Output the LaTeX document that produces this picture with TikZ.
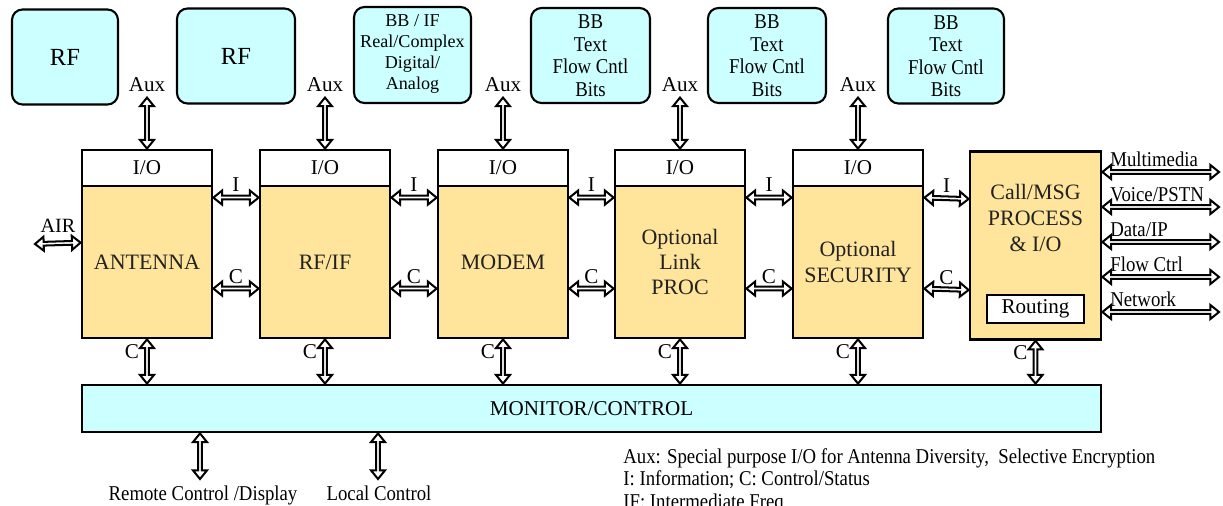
\documentclass[tikz,border=0pt]{standalone}
\usepackage{fontspec}
\setmainfont{Liberation Serif}
\newfontfamily\tnr{Liberation Serif}
\newfontfamily\tnrc[FakeStretch=0.89]{Liberation Serif}
\usetikzlibrary{arrows.meta,calc,shapes.arrows}
\definecolor{cy}{HTML}{CCFFFF}
\definecolor{tanfill}{HTML}{FFE49B}
\definecolor{txt}{HTML}{222222}
\newcommand{\fsz}[2]{\tnr\fontsize{#1}{#2}\selectfont}
\newcommand{\fszc}[2]{\tnrc\fontsize{#1}{#2}\selectfont}
\newcommand{\dbl}[2]{\path let \p1=(#1), \p2=(#2), \n1={veclen(\x2-\x1,\y2-\y1)}, \n2={atan2(\y2-\y1,\x2-\x1)} in node[darr, minimum height=\n1, rotate=\n2] at ($(#1)!0.5!(#2)$) {};}
\begin{document}
\begin{tikzpicture}[x=0.02cm,y=-0.02cm,
  topbox/.style={draw, line width=1.2pt, fill=cy, rounded corners=6pt, align=center, inner sep=0pt, minimum height=95*0.02cm},
  iobox/.style={draw, line width=1.6pt, fill=white, minimum width=130*0.02cm, minimum height=36*0.02cm, inner sep=0pt, font=\fsz{12}{14}},
  blk/.style={draw, line width=1.6pt, fill=tanfill, minimum width=130*0.02cm, minimum height=152*0.02cm, inner sep=0pt, align=center, text=txt, font=\fsz{12.5}{14.5}},
  darr/.style={double arrow, draw, fill=white, line width=1.15pt, minimum width=14*0.02cm, double arrow head extend=2.8*0.02cm, double arrow tip angle=78, inner sep=0pt, outer sep=0pt},
  lbl/.style={inner sep=0pt, font=\fsz{12}{14}},
  clbl/.style={inner sep=0pt, font=\fszc{12}{14}},
  smalllbl/.style={inner sep=0pt, font=\fsz{11.5}{13}}
]
\useasboundingbox (0,0) rectangle (1223,506);

% top boxes
\node[topbox, minimum width=106*0.02cm, font=\fsz{14}{16}] (t1) at (65,57) {RF};
\node[topbox, minimum width=118*0.02cm, font=\fsz{14}{16}] (t2) at (236,56) {RF};
\node[topbox, minimum width=117*0.02cm, minimum height=96*0.02cm, font=\fsz{10.3}{11.9}] (t3) at (412.5,55) {};
\node[inner sep=0pt, align=center, font=\fsz{10.3}{11.9}] (t3txt) at (412.5,54) {BB / IF\\Real/Complex\\Digital/\\Analog};
\node[topbox, minimum width=119*0.02cm, font=\fszc{12}{12.8}] (t4) at (590.5,55.5) {BB\\Text\\Flow Cntl\\Bits};
\node[topbox, minimum width=118*0.02cm, font=\fszc{12}{12.8}] (t5) at (767,55.5) {BB\\Text\\Flow Cntl\\Bits};
\node[topbox, minimum width=116*0.02cm, font=\fszc{12}{12.8}] (t6) at (946,56) {BB\\Text\\Flow Cntl\\Bits};

% blocks
\foreach \i/\x/\t in {1/82/{ANTENNA}, 2/260/{RF/IF}, 3/438/{MODEM}, 4/615/{Optional\\Link\\PROC}, 5/793/{Optional\\SECURITY}} {
  \node[iobox] (io\i) at (\x+65,168) {I/O};
  \node[blk] (b\i) at (\x+65,262) {\t};
}
\node[blk, minimum width=131*0.02cm, minimum height=188*0.02cm, anchor=north] (call) at (1035.5,150) {};
\node[lbl, align=center, text=txt, font=\fsz{12.5}{14.7}] (calltxt) at (1035.5,218) {Call/MSG\\PROCESS\\\& I/O};
\node[draw, line width=1.6pt, fill=white, minimum width=97*0.02cm, minimum height=28*0.02cm, inner sep=0pt, font=\fsz{12}{14}] (rout) at (1035.5,309) {Routing};

% monitor
\node[draw, line width=1.6pt, fill=cy, minimum width=1019*0.02cm, minimum height=47*0.02cm, inner sep=0pt, font=\fsz{12}{14}] (mon) at (591.5,408.5) {MONITOR/CONTROL};

% Aux arrows
\foreach \i in {1,...,5} {
  \coordinate (ax\i) at ($(io\i.north)+(0,-51)$);
  \dbl{ax\i}{io\i.north}
  \node[lbl, anchor=base] (auxl\i) at ($(ax\i)+(0,-6)$) {Aux};
}

% I and C arrows between blocks
\foreach \i/\j in {1/2,2/3,3/4,4/5} {
  \dbl{$(b\i.north east)+(0,13)$}{$(b\j.north west)+(0,13)$}
  \node[lbl, anchor=base] (il\i) at ($(b\i.north east)!0.5!(b\j.north west)+(0,7)$) {I};
  \dbl{$(b\i.north east)+(0,104)$}{$(b\j.north west)+(0,104)$}
  \node[lbl, anchor=base] (cl\i) at ($(b\i.north east)!0.5!(b\j.north west)+(0,99)$) {C};
}
\dbl{$(b5.north east)+(0,13)$}{$(call.north west)+(0,49)$}
\node[lbl, anchor=base] (il5) at (946.5,193) {I};
\dbl{$(b5.north east)+(0,104)$}{$(call.north west)+(0,140)$}
\node[lbl, anchor=base] (cl5) at (946.5,285) {C};

% AIR
\coordinate (air) at (35,244);
\dbl{air}{$(b1.north west)+(0,58)$}
\node[smalllbl, anchor=base] (airl) at (58,233) {AIR};

% right side
\foreach \k/\dy/\t in {1/22/{Multimedia}, 2/57/{Voice/PSTN}, 3/92/{Data/IP}, 4/127/{Flow Ctrl}, 5/162/{Network}} {
  \coordinate (r\k) at (1219,150+\dy);
  \dbl{$(call.north east)+(0,\dy)$}{r\k}
  \node[clbl, anchor=base west] (rl\k) at (1110,150+\dy-5) {\t};
}

% vertical C arrows to monitor
\foreach \bb in {b1,b2,b3,b4,b5,call} {
  \dbl{\bb.south}{mon.north -| \bb.south}
  \node[lbl, anchor=base] (vc\bb) at ($(\bb.south)+(-15,19)$) {C};
}

% bottom arrows
\coordinate (rc) at (200,479);
\coordinate (lc) at (378,479);
\dbl{mon.south -| rc}{rc}
\dbl{mon.south -| lc}{lc}
\node[clbl, anchor=base] (rcl) at (203,500) {Remote Control /Display};
\node[clbl, anchor=base] (lcl) at (379,500) {Local Control};

% legend
\node[clbl, anchor=base west] (leg) at (623,463) {Aux: Special purpose I/O for Antenna Diversity,\ \ Selective Encryption};
\node[clbl, anchor=base west] (leg2) at (623,485) {I: Information; C: Control/Status};
\node[clbl, anchor=base west] (leg3) at (623,508) {IF: Intermediate Freq};
\end{tikzpicture}
\end{document}
